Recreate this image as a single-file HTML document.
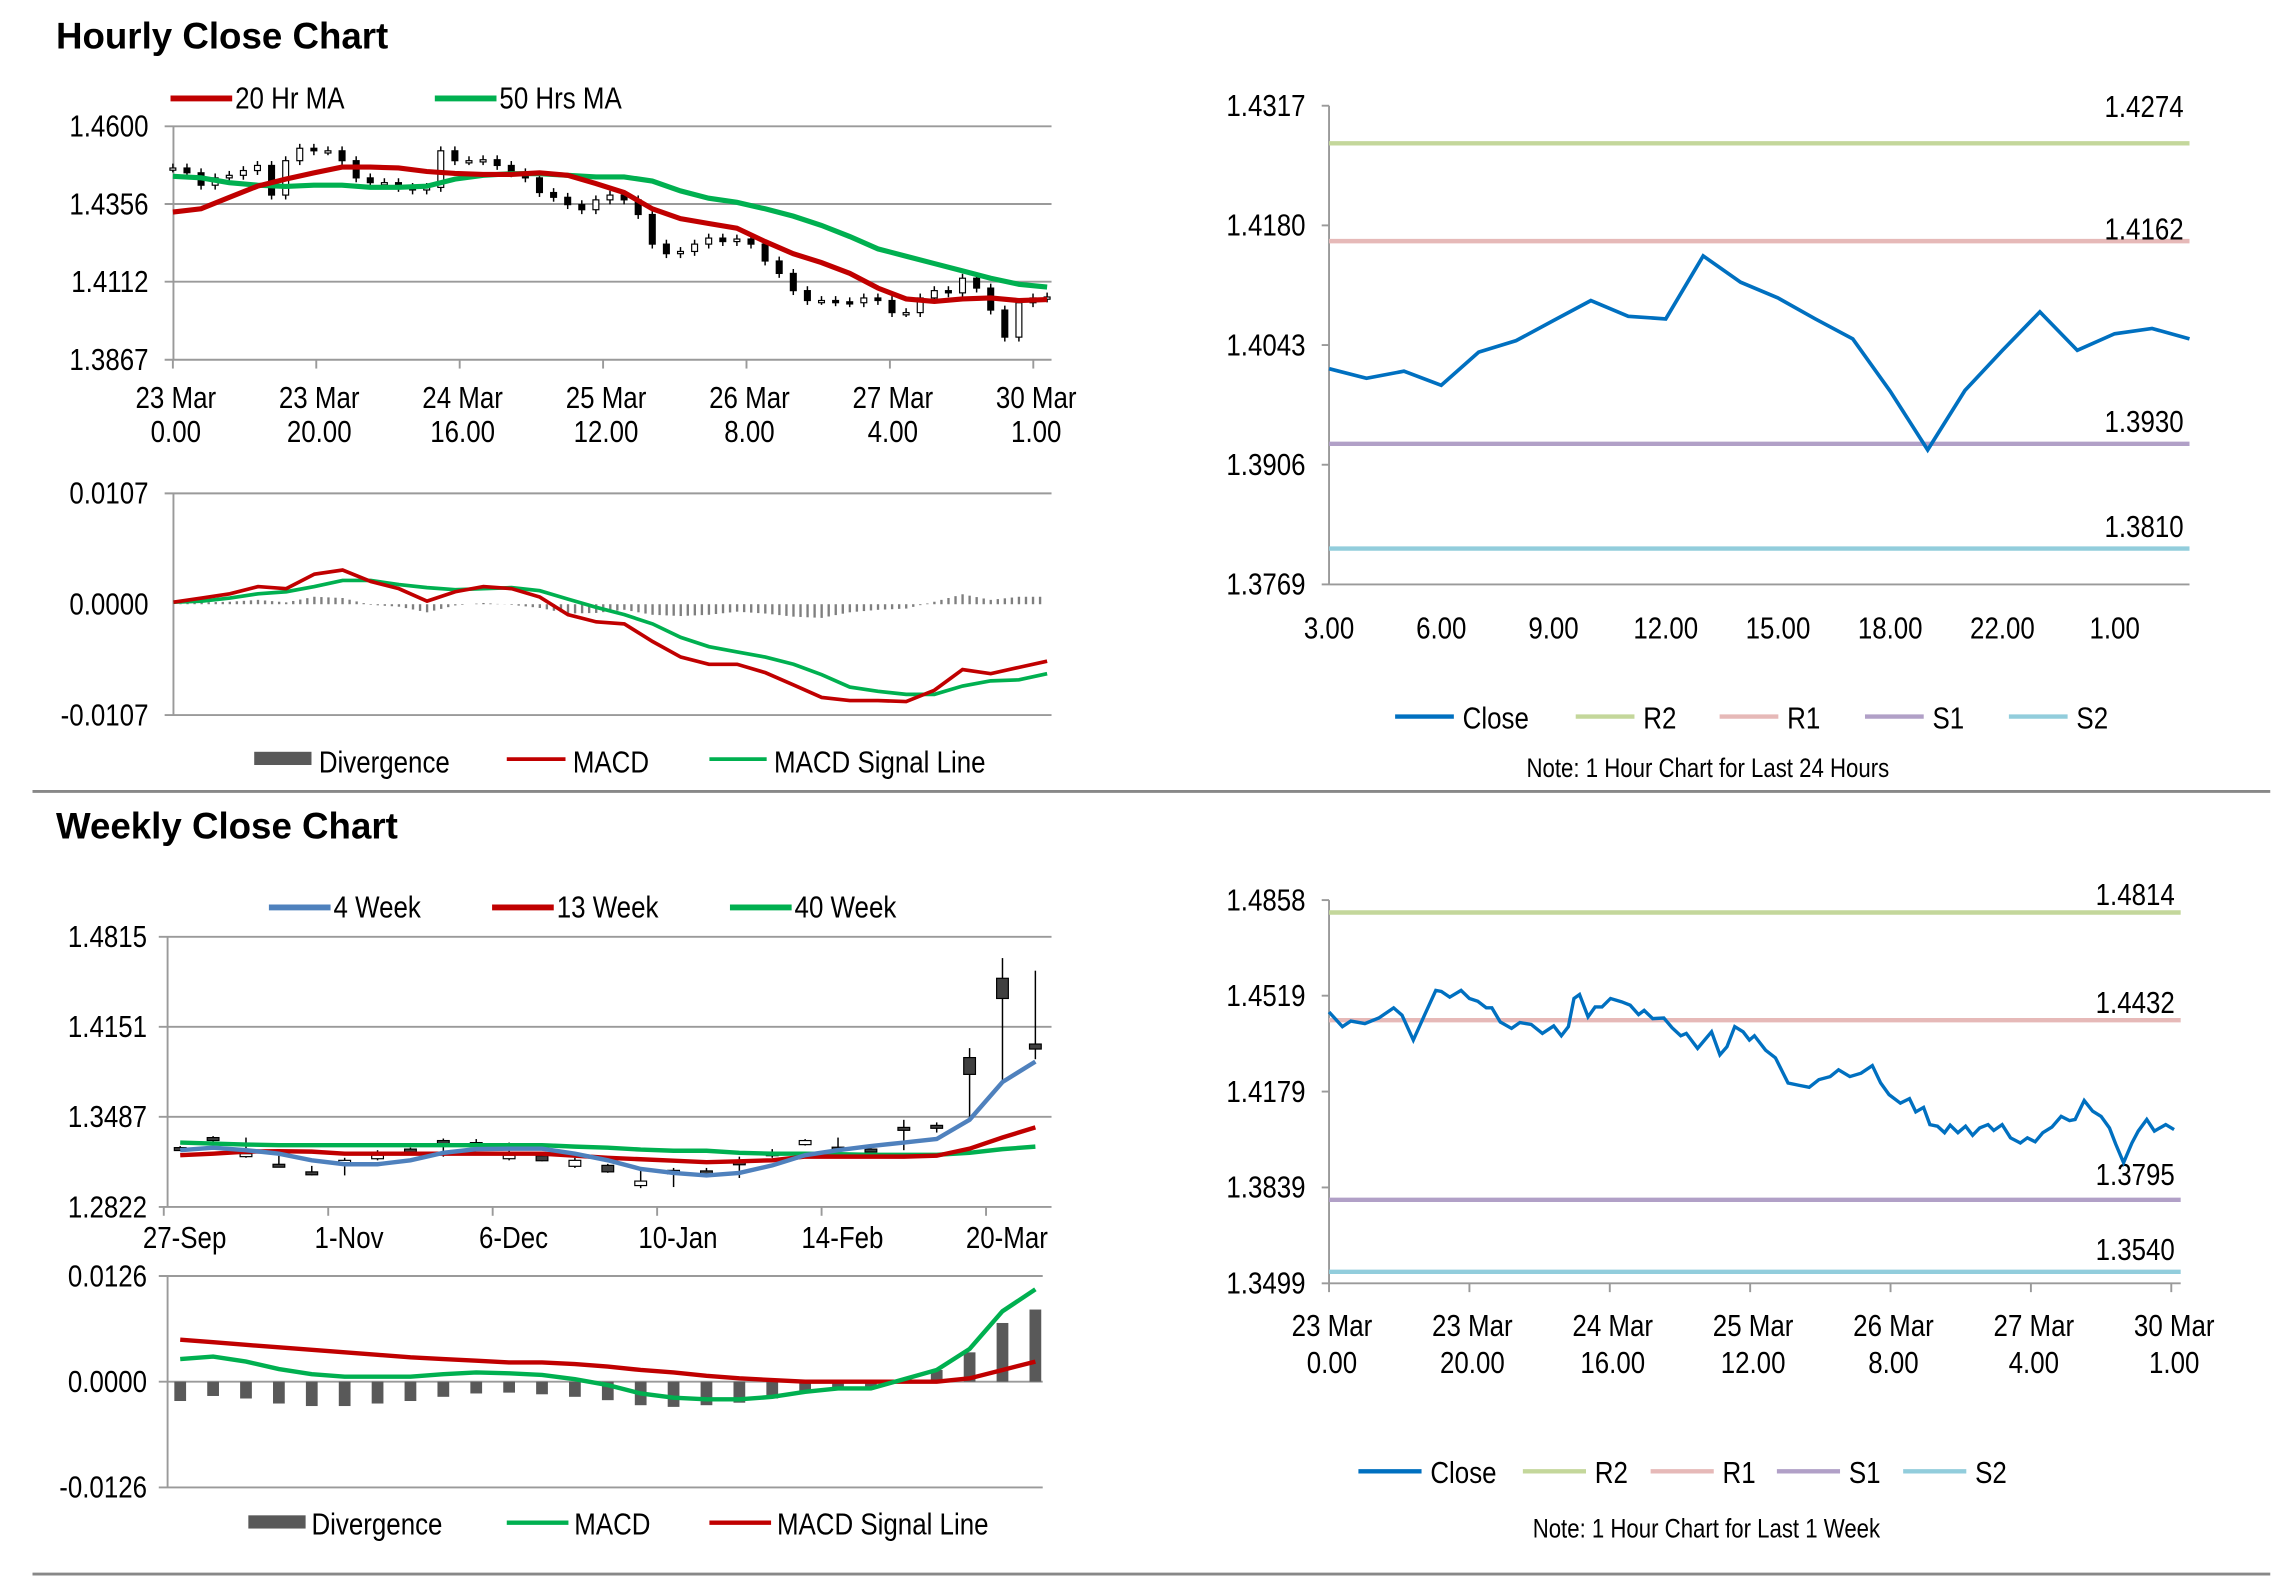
<!DOCTYPE html>
<html><head><meta charset="utf-8">
<style>
html,body{margin:0;padding:0;background:#fff;}
svg{display:block;}
text{font-family:"Liberation Sans Narrow","Liberation Sans",sans-serif;fill:#000;}
.t{font-family:"Liberation Sans",sans-serif;font-weight:bold;font-size:25px;}
.ax{font-size:21px;}
.lg{font-size:21px;}
.nt{font-size:18px;}
</style></head>
<body>
<svg id="root" width="2291" height="1577" viewBox="0 0 1560 1074" xmlns="http://www.w3.org/2000/svg">
<text class="t" x="38" y="33">Hourly Close Chart</text>
<text class="t" x="38" y="571">Weekly Close Chart</text>
<line x1="22" y1="539" x2="1546" y2="539" stroke="#888" stroke-width="2"/>
<line x1="22" y1="1072" x2="1546" y2="1072" stroke="#888" stroke-width="2"/>
<g id="g1"></g>
<g id="g2"></g>
<g id="g3"></g>
<g id="g4"></g>
<g id="g5"></g>
<g id="g6"></g>
</svg>
<script>
// ---------- Hourly price chart data ----------
const hCloses=[1.4469,1.4454,1.4415,1.4438,1.4446,1.4461,1.4477,1.4384,1.4492,1.4531,1.4523,1.4523,1.4492,1.4438,1.4423,1.4423,1.4408,1.4400,1.4408,1.4523,1.4492,1.4492,1.4495,1.4477,1.4454,1.4438,1.4392,1.4377,1.4354,1.4338,1.4369,1.4384,1.4369,1.4323,1.4230,1.4200,1.4207,1.4230,1.4249,1.4238,1.4246,1.4230,1.4177,1.4138,1.4084,1.4053,1.4053,1.4049,1.4046,1.4061,1.4053,1.4015,1.4015,1.4061,1.4084,1.4077,1.4123,1.4092,1.4023,1.3938,1.4046,1.4061,1.4064];
const hMA20=[1.4331,1.4341,1.4377,1.4412,1.4434,1.4454,1.4472,1.4472,1.4469,1.4458,1.4452,1.4449,1.4449,1.4454,1.4446,1.4420,1.4392,1.4341,1.4310,1.4295,1.4280,1.4238,1.4200,1.4172,1.4138,1.4092,1.4058,1.4050,1.4058,1.4061,1.4053,1.4056];
const hMA50=[1.4443,1.4438,1.4423,1.4415,1.4411,1.4415,1.4415,1.4408,1.4408,1.4412,1.4434,1.4446,1.4451,1.4451,1.4446,1.4441,1.4441,1.4428,1.4397,1.4374,1.4361,1.4341,1.4318,1.4289,1.4254,1.4215,1.4192,1.4169,1.4146,1.4123,1.4104,1.4095];
const hYTicks=[1.4600,1.4356,1.4112,1.3867];
const hXTop=["23 Mar","23 Mar","24 Mar","25 Mar","26 Mar","27 Mar","30 Mar"];
const hXBot=["0.00","20.00","16.00","12.00","8.00","4.00","1.00"];
// ---------- Hourly MACD data ----------
const hMacd=[0.0002,0.0006,0.0010,0.0017,0.0015,0.0029,0.0033,0.0022,0.0015,0.0003,0.0012,0.0017,0.0015,0.0007,-0.0010,-0.0017,-0.0019,-0.0036,-0.0051,-0.0058,-0.0058,-0.0066,-0.0078,-0.0090,-0.0093,-0.0093,-0.0094,-0.0083,-0.0063,-0.0067,-0.0061,-0.0055];
const hSignal=[0.0002,0.0003,0.0006,0.0010,0.0012,0.0017,0.0023,0.0023,0.0019,0.0016,0.0014,0.0015,0.0016,0.0013,0.0005,-0.0003,-0.0010,-0.0019,-0.0032,-0.0041,-0.0046,-0.0051,-0.0058,-0.0068,-0.0080,-0.0084,-0.0087,-0.0087,-0.0079,-0.0074,-0.0073,-0.0067];
const hMacdTicks=[0.0107,0.0000,-0.0107];
// ---------- 24h close ----------
const dCloses=[1.4016,1.4005,1.4013,1.3997,1.4035,1.4048,1.4071,1.4094,1.4076,1.4073,1.4145,1.4115,1.4097,1.4073,1.4050,1.3990,1.3923,1.3991,1.4037,1.4081,1.4037,1.4056,1.4062,1.4050];
const dXLabels=["3.00","6.00","9.00","12.00","15.00","18.00","22.00","1.00"];
const dYTicks=[1.4317,1.4180,1.4043,1.3906,1.3769];
const dLevels=[1.4274,1.4162,1.3930,1.3810];
const dLevelNames=["R2","R1","S1","S2"];
// ---------- Weekly price ----------
const wOpen=[1.3252,1.3323,1.3215,1.3125,1.3066,1.3166,1.3204,1.3237,1.3297,1.3286,1.3204,1.3163,1.3166,1.3081,1.3013,1.3092,1.3073,1.3140,1.3215,1.3312,1.3252,1.3237,1.3398,1.3409,1.3800,1.4360,1.3987];
const wClose=[1.3260,1.3334,1.3207,1.3137,1.3081,1.3148,1.3178,1.3249,1.3312,1.3297,1.3178,1.3200,1.3122,1.3129,1.2980,1.3066,1.3088,1.3155,1.3222,1.3282,1.3263,1.3249,1.3409,1.3424,1.3924,1.4509,1.4024];
const wHigh=[1.3271,1.3345,1.3334,1.3200,1.3125,1.3185,1.3241,1.3260,1.3327,1.3323,1.3297,1.3204,1.3185,1.3140,1.3092,1.3110,1.3110,1.3193,1.3249,1.3323,1.3334,1.3256,1.3465,1.3446,1.3994,1.4658,1.4565];
const wLow=[1.3241,1.3297,1.3185,1.3118,1.3055,1.3055,1.3166,1.3222,1.3193,1.3260,1.3166,1.3159,1.3110,1.3074,1.2961,1.2969,1.3055,1.3036,1.3185,1.3275,1.3230,1.3230,1.3241,1.3371,1.3465,1.3744,1.3912];
const wMA4=[1.3241,1.3260,1.3241,1.3215,1.3166,1.3137,1.3137,1.3166,1.3222,1.3249,1.3252,1.3252,1.3215,1.3166,1.3103,1.3073,1.3055,1.3073,1.3129,1.3204,1.3241,1.3271,1.3297,1.3323,1.3465,1.3744,1.3894];
const wMA13=[1.3204,1.3215,1.3230,1.3234,1.3230,1.3215,1.3215,1.3215,1.3215,1.3215,1.3215,1.3215,1.3200,1.3185,1.3174,1.3163,1.3152,1.3159,1.3166,1.3193,1.3193,1.3193,1.3193,1.3200,1.3252,1.3334,1.3409];
const wMA40=[1.3297,1.3290,1.3282,1.3278,1.3278,1.3278,1.3278,1.3278,1.3278,1.3278,1.3278,1.3278,1.3267,1.3260,1.3245,1.3237,1.3237,1.3222,1.3215,1.3215,1.3211,1.3207,1.3207,1.3207,1.3222,1.3249,1.3267];
const wYTicks=[1.4815,1.4151,1.3487,1.2822];
const wXLabels=["27-Sep","1-Nov","6-Dec","10-Jan","14-Feb","20-Mar"];
// ---------- Weekly MACD ----------
const wMacd=[0.0027,0.0030,0.0024,0.0015,0.0009,0.0006,0.0006,0.0006,0.0009,0.0011,0.0010,0.0008,0.0003,-0.0004,-0.0014,-0.0019,-0.0021,-0.0021,-0.0018,-0.0012,-0.0008,-0.0008,0.0003,0.0014,0.0039,0.0084,0.0110];
const wSignal=[0.0050,0.0047,0.0044,0.0041,0.0038,0.0035,0.0032,0.0029,0.0027,0.0025,0.0023,0.0023,0.0021,0.0018,0.0014,0.0011,0.0007,0.0004,0.0002,0,0,0,0,0,0.0004,0.0014,0.0024];
const wMacdTicks=[0.0126,0.0000,-0.0126];
// ---------- 1 week hourly close ----------
const kHours=[0,1.9,3.1,5.1,7.1,9.2,10.4,12,13.6,15.2,16,17.2,18.8,20,21.2,22.4,23.2,24.4,26,27.2,28.8,30.4,32,33.1,34.1,34.9,35.7,36.9,37.9,38.9,40.1,41.7,42.9,44.1,44.9,46.1,47.7,48.9,50.1,50.9,52.5,54.5,55.7,56.7,57.8,59,59.9,60.6,62.2,63.6,65.4,67,68.4,69.8,71.4,72.6,74.2,75.8,77.4,78.6,79.8,81.4,82.7,83.6,84.7,85.6,86.7,87.7,88.5,89.6,90.7,91.7,92.7,93.9,94.7,95.9,97.1,98.5,99.5,100.6,101.7,103,104.3,105.5,106.3,107.6,108.8,110,111.2,112.1,113.2,114.4,115.3,116.5,117.6,119.2,120.4];
const kCloses=[1.4461,1.4409,1.4429,1.4420,1.4440,1.4476,1.4450,1.4362,1.4450,1.4538,1.4534,1.4514,1.4538,1.4509,1.4499,1.4476,1.4476,1.4426,1.4403,1.4424,1.4417,1.4385,1.4412,1.4377,1.4409,1.4509,1.4523,1.4444,1.4479,1.4479,1.4509,1.4497,1.4485,1.4452,1.4467,1.4438,1.4440,1.4405,1.4377,1.4385,1.4332,1.4391,1.4309,1.4338,1.4409,1.4391,1.4362,1.4377,1.4326,1.4299,1.4209,1.4201,1.4194,1.4221,1.4232,1.4256,1.4232,1.4244,1.4271,1.4209,1.4168,1.4138,1.4154,1.4107,1.4123,1.4062,1.4056,1.4033,1.4060,1.4033,1.4056,1.4024,1.4050,1.4062,1.4041,1.4062,1.4015,1.3997,1.4015,1.4001,1.4033,1.4053,1.4091,1.4076,1.4080,1.4147,1.4109,1.4091,1.4050,1.3992,1.3927,1.3997,1.4039,1.4080,1.4039,1.4062,1.4044];
const kXTop=["23 Mar","23 Mar","24 Mar","25 Mar","26 Mar","27 Mar","30 Mar"];
const kXBot=["0.00","20.00","16.00","12.00","8.00","4.00","1.00"];
const kYTicks=[1.4858,1.4519,1.4179,1.3839,1.3499];
const kLevels=[1.4814,1.4432,1.3795,1.3540];
const kLevelNames=["R2","R1","S1","S2"];

const NS="http://www.w3.org/2000/svg";
function mk(parent,tag,attrs,txt){const e=document.createElementNS(NS,tag);for(const k in attrs)e.setAttribute(k,attrs[k]);if(txt!==undefined)e.textContent=txt;parent.appendChild(e);return e;}
function lin(d0,d1,r0,r1){return v=>r0+(v-d0)/(d1-d0)*(r1-r0);}
function poly(arr,xf,yf){return arr.map((v,i)=>xf(i).toFixed(1)+','+yf(v).toFixed(1)).join(' ');}
const GRID="#9a9a9a";
const levelColors=["#c4d79b","#e6b9b8","#b1a0c7","#92cddc"];

// ===== Chart 1: hourly price =====
(function(){
 const g=document.getElementById('g1');
 const x0=118,x1=716,yT=86,yB=245;
 const y=lin(hYTicks[3],hYTicks[0],yB,yT);
 const n=hCloses.length; const step=(713-117.6)/(n-1);
 const x=i=>117.6+i*step;
 hYTicks.forEach(t=>{let l=mk(g,'line',{x1:x0-6,x2:x1,y1:y(t),y2:y(t),stroke:GRID,'stroke-width':1.3});
  
  let tx=mk(g,'text',{x:101,y:y(t)+7,'text-anchor':'end',class:'ax'},t.toFixed(4));
  });
 mk(g,'line',{x1:x0,x2:x0,y1:yT,y2:yB,stroke:GRID,'stroke-width':1.3});
 hXTop.forEach((s,k)=>{const xx=x(k*10.17);
  mk(g,'line',{x1:xx,x2:xx,y1:yB,y2:yB+6,stroke:GRID,'stroke-width':1.3});
  let a=mk(g,'text',{x:xx+2,y:278,'text-anchor':'middle',class:'ax'},s);
  
  let b=mk(g,'text',{x:xx+2,y:301,'text-anchor':'middle',class:'ax'},hXBot[k]);
  });
 hCloses.forEach((c,i)=>{const o=i>0?hCloses[i-1]:c;const top=Math.min(y(o),y(c)),bot=Math.max(y(o),y(c));
  let w=mk(g,'line',{x1:x(i),x2:x(i),y1:top-3,y2:bot+3,stroke:'#000','stroke-width':1});
  
  let r=mk(g,'rect',{x:x(i)-2,y:top,width:4,height:Math.max(1.5,bot-top),fill:c<o?'#000':'#fff',stroke:'#000','stroke-width':0.8});
  });
 const mx=i=>117.6+i*(713-117.6)/(hMA20.length-1);
 let p1=mk(g,'polyline',{points:poly(hMA50,i=>117.6+i*(713-117.6)/(hMA50.length-1),y),fill:'none',stroke:'#00b050','stroke-width':3.5});
 
 let p2=mk(g,'polyline',{points:poly(hMA20,mx,y),fill:'none',stroke:'#c00000','stroke-width':3.5});
 
 let l1=mk(g,'line',{x1:116,x2:158,y1:67,y2:67,stroke:'#c00000','stroke-width':4});
 
 let t1=mk(g,'text',{x:160,y:74,class:'lg'},'20 Hr MA');
 let l2=mk(g,'line',{x1:296,x2:338,y1:67,y2:67,stroke:'#00b050','stroke-width':4});
 
 let t2=mk(g,'text',{x:340,y:74,class:'lg'},'50 Hrs MA');
})();

// ===== Chart 2: hourly MACD =====
(function(){
 const g=document.getElementById('g2');
 const x0=118,x1=716,yT=336,yB=487;
 const y=lin(hMacdTicks[2],hMacdTicks[0],yB,yT);
 const n=hMacd.length;const x=i=>118+i*(713-118)/(n-1);
 [hMacdTicks[0],hMacdTicks[2]].forEach(t=>{mk(g,'line',{x1:x0-6,x2:x1,y1:y(t),y2:y(t),stroke:GRID,'stroke-width':1.3});});
 hMacdTicks.forEach(t=>{let tx=mk(g,'text',{x:101,y:y(t)+7,'text-anchor':'end',class:'ax'},t.toFixed(4));
  });
 mk(g,'line',{x1:x0,x2:x0,y1:yT,y2:yB,stroke:GRID,'stroke-width':1.3});
 const SUB=4;
 for(let i=0;i<n-1;i++){
  for(let s=0;s<SUB;s++){
   const f=s/SUB;
   const m=hMacd[i]+(hMacd[i+1]-hMacd[i])*f, sg=hSignal[i]+(hSignal[i+1]-hSignal[i])*f;
   const d=(m-sg)*0.6; const xx=x(i+f);
   let b=mk(g,'rect',{x:xx-0.8,y:Math.min(y(0),y(d)),width:1.6,height:Math.abs(y(d)-y(0)),fill:'#7f7f7f'});
   
   
  }
 }
 let s=mk(g,'polyline',{points:poly(hSignal,x,y),fill:'none',stroke:'#00b050','stroke-width':2.5});
 
 let m=mk(g,'polyline',{points:poly(hMacd,x,y),fill:'none',stroke:'#c00000','stroke-width':2.5});
 
 mk(g,'rect',{x:173,y:512,width:39,height:9,fill:'#595959'});
 let a=mk(g,'text',{x:217,y:526,class:'lg'},'Divergence');
 mk(g,'line',{x1:345,x2:385,y1:517,y2:517,stroke:'#c00000','stroke-width':2.5});
 let b2=mk(g,'text',{x:390,y:526,class:'lg'},'MACD');
 mk(g,'line',{x1:483,x2:522,y1:517,y2:517,stroke:'#00b050','stroke-width':2.5});
 let c=mk(g,'text',{x:527,y:526,class:'lg'},'MACD Signal Line');
})();

// ===== level chart helper =====
function levelChart(gid,cfg){
 const g=document.getElementById(gid);
 const {x0,x1,yT,yB,ticks,levels,names,labelOffsets}=cfg;
 const y=lin(ticks[ticks.length-1],ticks[0],yB,yT);
 mk(g,'line',{x1:x0,x2:x0,y1:yT,y2:yB,stroke:GRID,'stroke-width':1.3});
 mk(g,'line',{x1:x0,x2:x1,y1:yB,y2:yB,stroke:GRID,'stroke-width':1.3});
 ticks.forEach(t=>{mk(g,'line',{x1:x0-5,x2:x0,y1:y(t),y2:y(t),stroke:GRID,'stroke-width':1.3});
  let tx=mk(g,'text',{x:889,y:y(t)+7,'text-anchor':'end',class:'ax'},t.toFixed(4));
  });
 levels.forEach((v,k)=>{let l=mk(g,'line',{x1:x0,x2:x1,y1:y(v),y2:y(v),stroke:levelColors[k],'stroke-width':3});
  
  let t=mk(g,'text',{x:x1-4,y:y(v)+labelOffsets[k],'text-anchor':'end',class:'ax'},v.toFixed(4));
  });
 return y;
}
// ===== Chart 3 =====
(function(){
 const y=levelChart('g3',{x0:905,x1:1491,yT:72,yB:398,ticks:dYTicks,levels:dLevels,names:dLevelNames,labelOffsets:[-18,-1,-8,-8]});
 const g=document.getElementById('g3');
 const n=dCloses.length;const x=i=>905+i*(1491-905)/(n-1);
 dXLabels.forEach((s,k)=>{let t=mk(g,'text',{x:x(k*3),y:435,'text-anchor':'middle',class:'ax'},s);
  });
 let p=mk(g,'polyline',{points:poly(dCloses,x,y),fill:'none',stroke:'#0070c0','stroke-width':2.5});
 
 const lg=[[950,990,996,'Close','#0070c0'],[1073,1113,1119,'R2',levelColors[0]],[1171,1211,1217,'R1',levelColors[1]],[1270,1310,1316,'S1',levelColors[2]],[1368,1408,1414,'S2',levelColors[3]]];
 lg.forEach(a=>{mk(g,'line',{x1:a[0],x2:a[1],y1:488,y2:488,stroke:a[4],'stroke-width':3});
  let t=mk(g,'text',{x:a[2],y:496,class:'lg'},a[3]);});
 let nt=mk(g,'text',{x:1163,y:529,'text-anchor':'middle',class:'nt'},'Note: 1 Hour Chart for Last 24 Hours');
 
})();

// ===== Chart 4: weekly price =====
(function(){
 const g=document.getElementById('g4');
 const x0=114,x1=716,yT=638,yB=822;
 const y=lin(wYTicks[3],wYTicks[0],yB,yT);
 const x=i=>122.6+i*22.4;
 wYTicks.forEach(t=>{mk(g,'line',{x1:x0-6,x2:x1,y1:y(t),y2:y(t),stroke:GRID,'stroke-width':1.3});
  let tx=mk(g,'text',{x:100,y:y(t)+7,'text-anchor':'end',class:'ax'},t.toFixed(4));
  });
 mk(g,'line',{x1:x0,x2:x0,y1:yT,y2:yB,stroke:GRID,'stroke-width':1.3});
 wXLabels.forEach((s,k)=>{const xt=x(k*5)-11.2;
  mk(g,'line',{x1:xt,x2:xt,y1:yB,y2:yB+6,stroke:GRID,'stroke-width':1.3});
  let t=mk(g,'text',{x:x(k*5)+3,y:850,'text-anchor':'middle',class:'ax'},s);
  });
 wClose.forEach((c,i)=>{const o=wOpen[i];
  let w=mk(g,'line',{x1:x(i),x2:x(i),y1:y(wHigh[i]),y2:y(wLow[i]),stroke:'#000','stroke-width':1});
  
  const top=Math.min(y(o),y(c)),h=Math.max(2,Math.abs(y(o)-y(c)));
  let r=mk(g,'rect',{x:x(i)-4,y:top,width:8,height:h,fill:c>o?'#404040':'#fff',stroke:'#000','stroke-width':0.8});
  });
 [[wMA40,'#00b050','ma40-line'],[wMA13,'#c00000','ma13-line'],[wMA4,'#4f81bd','ma4-line']].forEach(a=>{
  let p=mk(g,'polyline',{points:poly(a[0],x,y),fill:'none',stroke:a[1],'stroke-width':3});
  });
 const lg=[[183,225,227,'4 Week','#4f81bd'],[335,377,379,'13 Week','#c00000'],[497,539,541,'40 Week','#00b050']];
 lg.forEach(a=>{mk(g,'line',{x1:a[0],x2:a[1],y1:618,y2:618,stroke:a[4],'stroke-width':4});
  let t=mk(g,'text',{x:a[2],y:625,class:'lg'},a[3]);});
})();

// ===== Chart 5: weekly MACD =====
(function(){
 const g=document.getElementById('g5');
 const x0=114,x1=710,yT=869,yB=1013;
 const y=lin(wMacdTicks[2],wMacdTicks[0],yB,yT);
 const x=i=>122.6+i*22.4;
 wMacdTicks.forEach(t=>{mk(g,'line',{x1:x0-6,x2:x1,y1:y(t),y2:y(t),stroke:GRID,'stroke-width':1.3});
  let tx=mk(g,'text',{x:100,y:y(t)+7,'text-anchor':'end',class:'ax'},t.toFixed(4));
  });
 mk(g,'line',{x1:x0,x2:x0,y1:yT,y2:yB,stroke:GRID,'stroke-width':1.3});
 wMacd.forEach((m,i)=>{const d=m-wSignal[i];
  let b=mk(g,'rect',{x:x(i)-4,y:Math.min(y(0),y(d)),width:8,height:Math.abs(y(d)-y(0)),fill:'#595959'});
  });
 let s=mk(g,'polyline',{points:poly(wSignal,x,y),fill:'none',stroke:'#c00000','stroke-width':3});
 
 let m=mk(g,'polyline',{points:poly(wMacd,x,y),fill:'none',stroke:'#00b050','stroke-width':3});
 
 mk(g,'rect',{x:169,y:1032,width:39,height:9,fill:'#595959'});
 let a=mk(g,'text',{x:212,y:1045,class:'lg'},'Divergence');
 mk(g,'line',{x1:345,x2:387,y1:1037,y2:1037,stroke:'#00b050','stroke-width':3});
 let b2=mk(g,'text',{x:391,y:1045,class:'lg'},'MACD');
 mk(g,'line',{x1:483,x2:525,y1:1037,y2:1037,stroke:'#c00000','stroke-width':3});
 let c=mk(g,'text',{x:529,y:1045,class:'lg'},'MACD Signal Line');
})();

// ===== Chart 6 =====
(function(){
 const y=levelChart('g6',{x0:905,x1:1485,yT:613,yB:874,ticks:kYTicks,levels:kLevels,names:kLevelNames,labelOffsets:[-5,-5,-10,-8]});
 const g=document.getElementById('g6');
 const x=h=>905+h*4.78;
 kXTop.forEach((s,k)=>{const xx=x(k*20);
  mk(g,'line',{x1:xx,x2:xx,y1:874,y2:880,stroke:GRID,'stroke-width':1.3});
  let a=mk(g,'text',{x:xx+2,y:910,'text-anchor':'middle',class:'ax'},s);
  let b=mk(g,'text',{x:xx+2,y:935,'text-anchor':'middle',class:'ax'},kXBot[k]);});
 const n=Math.min(kHours.length,kCloses.length);
 const pts=[];for(let i=0;i<n;i++)pts.push(x(kHours[i]).toFixed(1)+','+y(kCloses[i]).toFixed(1));
 let p=mk(g,'polyline',{points:pts.join(' '),fill:'none',stroke:'#0070c0','stroke-width':2.3});
 
 const lg=[[925,968,974,'Close','#0070c0'],[1037,1080,1086,'R2',levelColors[0]],[1124,1167,1173,'R1',levelColors[1]],[1210,1253,1259,'S1',levelColors[2]],[1296,1339,1345,'S2',levelColors[3]]];
 lg.forEach(a=>{mk(g,'line',{x1:a[0],x2:a[1],y1:1002,y2:1002,stroke:a[4],'stroke-width':3});
  let t=mk(g,'text',{x:a[2],y:1010,class:'lg'},a[3]);});
 let nt=mk(g,'text',{x:1162,y:1047,'text-anchor':'middle',class:'nt'},'Note: 1 Hour Chart for  Last 1 Week');
 
})();

// condense non-title text to mimic a narrow font
document.querySelectorAll('#root text').forEach(t=>{
 if(t.classList.contains('t'))return;
 try{const L=t.getComputedTextLength();if(L>0){t.setAttribute('textLength',(L*0.84).toFixed(1));t.setAttribute('lengthAdjust','spacingAndGlyphs');}}catch(e){}
});
</script>
</body></html>
